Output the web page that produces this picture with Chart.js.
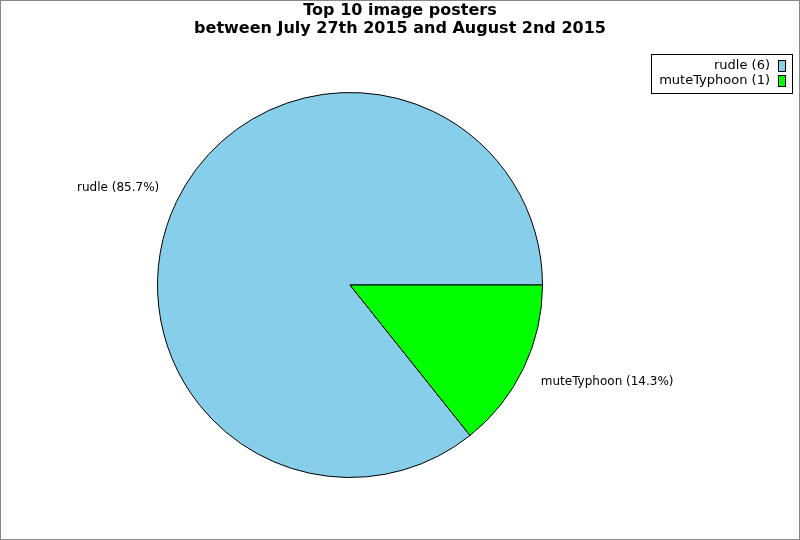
<!DOCTYPE html>
<html>
<head>
<meta charset="utf-8">
<script src="https://cdn.jsdelivr.net/npm/chart.js@4"></script>
<style>
  body { margin: 0; background: #fff; }
  canvas { display: block; }
</style>
</head>
<body>
<canvas id="pieChart" width="800" height="540"></canvas>
<script>
// data
const posters = ['rudle', 'muteTyphoon'];
const postCounts = [6, 1];
const sliceColors = ['#87CEEB', '#00FF00'];
const titleLines = ['Top 10 image posters', 'between July 27th 2015 and August 2nd 2015'];

const total = postCounts.reduce((a, b) => a + b, 0);
// last slice starts at 3 o'clock, going clockwise
const lastAngle = postCounts[postCounts.length - 1] / total * 360;

// border, title, slice labels, legend box
const extras = {
    id: 'extras',
    afterDraw(chart) {
        const ctx = chart.ctx;
        ctx.save();
        ctx.strokeStyle = '#888';
        ctx.lineWidth = 1;
        ctx.strokeRect(0.5, 0.5, 799, 539);

        // title
        ctx.fillStyle = '#000';
        ctx.textAlign = 'center';
        ctx.textBaseline = 'middle';
        ctx.font = 'bold 16px "DejaVu Sans"';
        titleLines.forEach((t, i) => ctx.fillText(t, 400, 11 + i * 18));

        // labels around pie
        ctx.font = '12px "DejaVu Sans"';
        chart.getDatasetMeta(0).data.forEach((arc, i) => {
            const mid = (arc.startAngle + arc.endAngle) / 2;
            const r = arc.outerRadius * 1.1;
            const x = arc.x + Math.cos(mid) * r;
            const y = arc.y + Math.sin(mid) * r + Math.sign(Math.sin(mid)) * 5;
            const pct = (postCounts[i] / total * 100).toFixed(1);
            ctx.textAlign = Math.cos(mid) < 0 ? 'right' : 'left';
            ctx.fillText(posters[i] + ' (' + pct + '%)', x, y);
        });

        // legend
        ctx.strokeStyle = '#000';
        ctx.strokeRect(651.5, 54.5, 141, 39);
        ctx.textAlign = 'right';
        ctx.font = '13px "DejaVu Sans"';
        posters.forEach((p, i) => {
            const y = 66 + i * 15;
            ctx.fillStyle = '#000';
            ctx.fillText(p + ' (' + postCounts[i] + ')', 770, y);
            ctx.fillStyle = sliceColors[i];
            ctx.fillRect(778, y - 6, 8, 12);
            ctx.strokeRect(778.5, y - 5.5, 7, 11);
        });
        ctx.restore();
    }
};

const ctx = document.getElementById('pieChart').getContext('2d');

const config = {
    type: 'pie',
    data: {
        labels: posters,
        datasets: [{
            data: postCounts,
            backgroundColor: sliceColors,
            borderColor: '#000',
            borderWidth: 1,
        }],
    },
    options: {
        responsive: false,
        animation: false,
        rotation: 90 + lastAngle,
        layout: { padding: { top: 92, bottom: 62, left: 157, right: 257 } },
        plugins: {
            legend: { display: false },
            tooltip: { enabled: false },
            title: { display: false },
        },
    },
    plugins: [extras],
};

const myChart = new Chart(ctx, config);
</script>
</body>
</html>
